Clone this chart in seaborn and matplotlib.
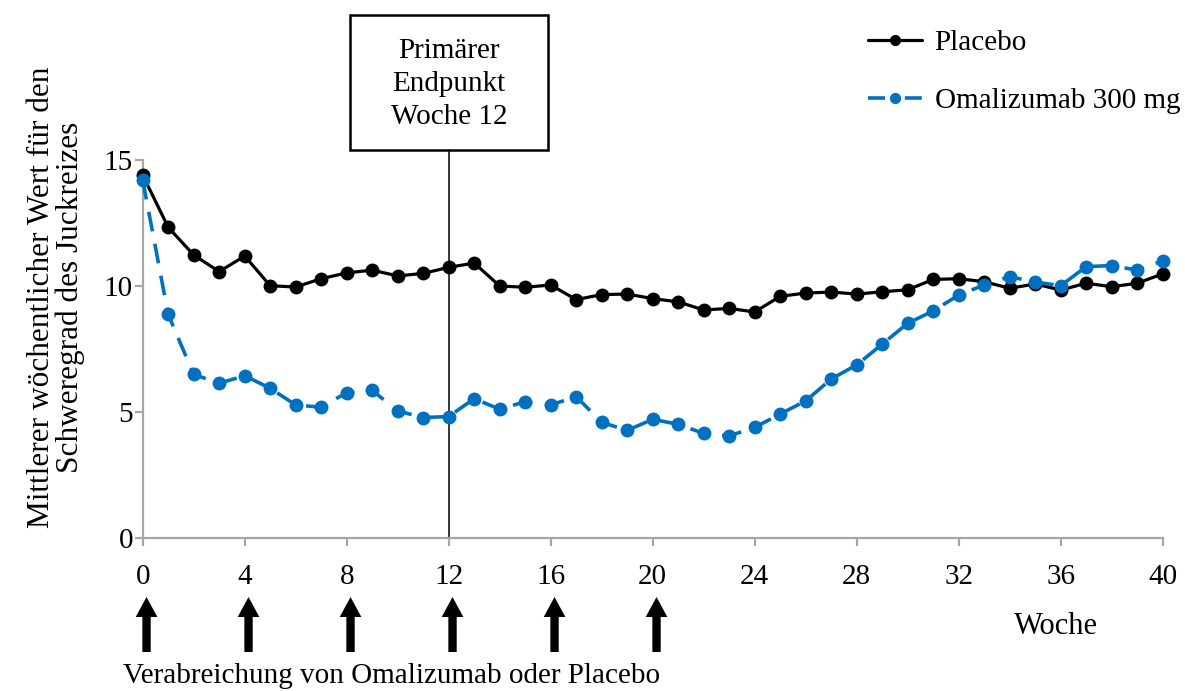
import matplotlib
matplotlib.use("Agg")
import matplotlib.pyplot as plt
import matplotlib.transforms as mtransforms
from matplotlib.lines import Line2D
from matplotlib.patches import Rectangle
import seaborn as sns
import pandas as pd

weeks = list(range(0, 41))
placebo = [14.40, 12.33, 11.23, 10.57, 11.19, 10.01, 9.96, 10.29, 10.52, 10.63,
           10.40, 10.50, 10.74, 10.91, 10.00, 9.95, 10.04, 9.46, 9.66, 9.68,
           9.50, 9.37, 9.05, 9.11, 8.97, 9.59, 9.72, 9.76, 9.68, 9.77,
           9.85, 10.26, 10.29, 10.17, 9.91, 10.08, 9.84, 10.11, 9.97, 10.11, 10.48]
omalizumab = [14.21, 8.87, 6.49, 6.14, 6.44, 5.94, 5.28, 5.19, 5.77, 5.86,
              5.04, 4.78, 4.82, 5.53, 5.11, 5.41, 5.28, 5.61, 4.59, 4.27,
              4.71, 4.51, 4.15, 4.05, 4.39, 4.92, 5.44, 6.31, 6.87, 7.69,
              8.52, 9.01, 9.64, 10.04, 10.37, 10.16, 10.01, 10.77, 10.81, 10.63, 11.00]
series_names = ["Placebo", "Omalizumab 300 mg"]
x_ticks = list(range(0, 41, 4))
y_ticks = [0, 5, 10, 15]
dose_weeks = [0, 4, 8, 12, 16, 20]
endpoint_week = 12
endpoint_text = "Primärer\nEndpunkt\nWoche 12"
ylabel = "Mittlerer wöchentlicher Wert für den\nSchweregrad des Juckreizes"
xlabel = "Woche"
dose_label = "Verabreichung von Omalizumab oder Placebo"

BLUE = "#0070C0"
GRAY = "#A6A6A6"
FS = 21

sns.set_theme(style="white")
plt.rcParams["font.family"] = ["Liberation Serif", "DejaVu Serif"]
plt.rcParams["text.color"] = "black"

W, H = 1185, 691
fig = plt.figure(figsize=(W / 100, H / 100), dpi=100)
ax = fig.add_axes([142.7 / W, 1 - 538 / H, 1020 / W, 378 / H])

df_p = pd.DataFrame({"Woche": weeks, "Wert": placebo})
df_o = pd.DataFrame({"Woche": weeks, "Wert": omalizumab})
sns.lineplot(data=df_p, x="Woche", y="Wert", ax=ax, color="black", lw=2.3,
             marker="o", markersize=10, markeredgewidth=0, clip_on=False, zorder=3)
sns.lineplot(data=df_o, x="Woche", y="Wert", ax=ax, color=BLUE, lw=2.6,
             marker="o", markersize=10, markeredgewidth=0, clip_on=False, zorder=4,
             dashes=False)
ax.lines[-1].set_dashes([5.5, 3.5])

ax.set_xlim(0, 40)
ax.set_ylim(0, 15)
ax.set_xticks(x_ticks)
ax.set_yticks(y_ticks)
ax.set_xlabel("")
ax.set_ylabel("")
for s in ["top", "right"]:
    ax.spines[s].set_visible(False)
for s in ["left", "bottom"]:
    ax.spines[s].set_color(GRAY)
    ax.spines[s].set_linewidth(1.6)
ax.tick_params(axis="x", direction="out", length=6, width=1.6, color=GRAY,
               pad=13, labelsize=FS, labelcolor="black", bottom=True)
ax.tick_params(axis="y", direction="out", length=6, width=1.6, color=GRAY,
               pad=1, labelsize=FS, labelcolor="black", left=True)

# vertical endpoint line up to the box
blend = mtransforms.blended_transform_factory(ax.transData, fig.transFigure)
ax.add_line(Line2D([endpoint_week, endpoint_week], [1 - 538 / H, 1 - 150 / H],
                   transform=blend, color="black", lw=1.1, clip_on=False, zorder=2))
fig.patches.append(Rectangle((350 / W, 1 - 150 / H), 198 / W, 135 / H,
                             transform=fig.transFigure, fill=False,
                             edgecolor="black", lw=1.8))
fig.text(449 / W, 1 - 84 / H, endpoint_text, ha="center", va="center",
         fontsize=FS, linespacing=1.35)

# legend
handles = [Line2D([], [], color="black", lw=2.3, marker="o", markersize=7),
           Line2D([], [], color=BLUE, lw=2.6, marker="o", markersize=7,
                  dashes=[4.7, 5.5])]
fig.legend(handles, series_names, loc="upper left",
           bbox_to_anchor=(853 / W, 1 - 15 / H), frameon=False, fontsize=FS,
           handlelength=1.85, handletextpad=0.45, labelspacing=1.1, borderpad=0)

# dose arrows
for wk in dose_weeks:
    ax.annotate("", xy=(wk + 0.15, 1 - 597 / H), xytext=(wk + 0.15, 1 - 652 / H),
                xycoords=blend, textcoords=blend,
                arrowprops=dict(arrowstyle="simple,head_length=0.72,head_width=0.78,tail_width=0.3",
                                mutation_scale=20, color="black", lw=0,
                                shrinkA=0, shrinkB=0))

fig.text(392 / W, 1 - 676 / H, dose_label, ha="center", va="center", fontsize=FS)
fig.text(1056 / W, 1 - 627 / H, xlabel, ha="center", va="center", fontsize=22)
fig.text(56 / W, 1 - 297 / H, ylabel, ha="center", va="center", rotation=90,
         fontsize=22.5, linespacing=0.95)

fig.savefig("out.png", dpi=100)
